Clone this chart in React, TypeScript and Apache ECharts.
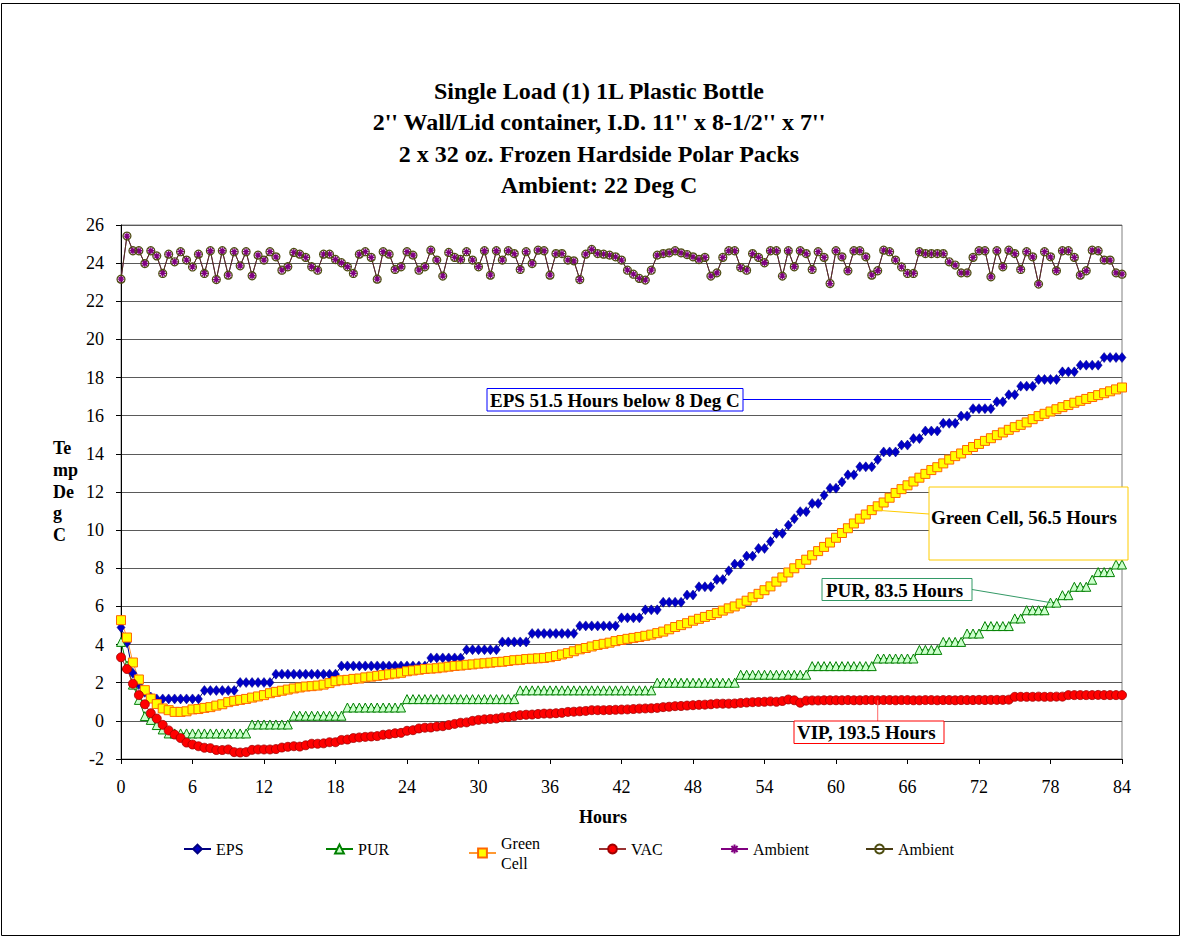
import React, { useEffect, useRef } from "react";
import * as echarts from "echarts";

const FONT = "'Liberation Serif', 'Times New Roman', serif";

const TITLE_LINES = [
  "Single Load (1) 1L Plastic Bottle",
  "2'' Wall/Lid container, I.D. 11'' x 8-1/2'' x 7''",
  "2 x 32 oz. Frozen Hardside Polar Packs",
  "Ambient: 22 Deg C",
];

// readings every half hour, 0 h .. 84 h
const SAMPLE_STEP_H = 0.5;

const EPS = [
  4.9, 4.1, 2.5, 1.9, 1.5, 1.25, 1.15, 1.15, 1.15, 1.15,
  1.15, 1.15, 1.15, 1.15, 1.59, 1.59, 1.59, 1.59, 1.59, 1.59,
  2.01, 2.01, 2.01, 2.01, 2.01, 2.01, 2.45, 2.45, 2.45, 2.45,
  2.45, 2.45, 2.45, 2.45, 2.45, 2.45, 2.45, 2.88, 2.88, 2.88,
  2.88, 2.88, 2.88, 2.88, 2.88, 2.88, 2.88, 2.88, 2.88, 2.88,
  2.88, 2.88, 3.3, 3.3, 3.3, 3.3, 3.3, 3.3, 3.73, 3.73,
  3.73, 3.73, 3.73, 3.73, 4.14, 4.14, 4.14, 4.14, 4.14, 4.58,
  4.58, 4.58, 4.58, 4.58, 4.58, 4.58, 4.58, 4.98, 4.98, 4.98,
  4.98, 4.98, 4.98, 4.98, 5.4, 5.4, 5.4, 5.4, 5.82, 5.82,
  5.82, 6.22, 6.22, 6.22, 6.22, 6.6, 6.6, 7.03, 7.03, 7.03,
  7.41, 7.41, 7.87, 8.22, 8.22, 8.64, 8.64, 9.04, 9.04, 9.4,
  9.83, 9.83, 10.26, 10.6, 10.97, 10.97, 11.4, 11.4, 11.83, 12.2,
  12.2, 12.53, 12.9, 12.9, 13.32, 13.32, 13.32, 13.7, 14.1, 14.1,
  14.1, 14.46, 14.46, 14.8, 14.8, 15.2, 15.2, 15.2, 15.6, 15.6,
  15.6, 15.98, 15.98, 16.37, 16.37, 16.37, 16.37, 16.73, 16.73, 17.1,
  17.1, 17.55, 17.55, 17.55, 17.9, 17.9, 17.9, 17.9, 18.3, 18.3,
  18.3, 18.65, 18.65, 18.65, 18.65, 19.05, 19.05, 19.05, 19.05,
];

const PUR = [
  4.14, 2.9, 1.9, 1.1, 0.25, 0.05, -0.22, -0.45, -0.66, -0.66,
  -0.66, -0.66, -0.66, -0.66, -0.66, -0.66, -0.66, -0.66, -0.66, -0.66,
  -0.66, -0.66, -0.19, -0.19, -0.19, -0.19, -0.19, -0.19, -0.19, 0.27,
  0.27, 0.27, 0.27, 0.27, 0.27, 0.27, 0.27, 0.27, 0.7, 0.7,
  0.7, 0.7, 0.7, 0.7, 0.7, 0.7, 0.7, 0.7, 1.14, 1.14,
  1.14, 1.14, 1.14, 1.14, 1.14, 1.14, 1.14, 1.14, 1.14, 1.14,
  1.14, 1.14, 1.14, 1.14, 1.14, 1.14, 1.14, 1.6, 1.6, 1.6,
  1.6, 1.6, 1.6, 1.6, 1.6, 1.6, 1.6, 1.6, 1.6, 1.6,
  1.6, 1.6, 1.6, 1.6, 1.6, 1.6, 1.6, 1.6, 1.6, 1.6,
  2.0, 2.0, 2.0, 2.0, 2.0, 2.0, 2.0, 2.0, 2.0, 2.0,
  2.0, 2.0, 2.0, 2.0, 2.42, 2.42, 2.42, 2.42, 2.42, 2.42,
  2.42, 2.42, 2.42, 2.42, 2.42, 2.42, 2.87, 2.87, 2.87, 2.87,
  2.87, 2.87, 2.87, 2.87, 2.87, 2.87, 2.87, 3.27, 3.27, 3.27,
  3.27, 3.27, 3.27, 3.27, 3.72, 3.72, 3.72, 3.72, 4.14, 4.14,
  4.14, 4.14, 4.58, 4.58, 4.58, 4.97, 4.97, 4.97, 4.97, 4.97,
  5.37, 5.37, 5.8, 5.8, 5.8, 5.8, 6.2, 6.2, 6.59, 6.59,
  7.03, 7.03, 7.03, 7.4, 7.8, 7.8, 7.8, 8.2, 8.2,
];

const GREEN_CELL = [
  5.28, 4.37, 3.06, 2.17, 1.61, 1.17, 0.88, 0.65, 0.56, 0.47,
  0.47, 0.5, 0.6, 0.62, 0.68, 0.72, 0.8, 0.87, 0.98, 1.05,
  1.1, 1.15, 1.22, 1.28, 1.35, 1.45, 1.52, 1.58, 1.64, 1.7,
  1.75, 1.8, 1.82, 1.85, 1.9, 1.98, 2.08, 2.13, 2.15, 2.2,
  2.22, 2.28, 2.32, 2.36, 2.4, 2.44, 2.48, 2.52, 2.6, 2.64,
  2.68, 2.72, 2.74, 2.76, 2.8, 2.84, 2.88, 2.9, 2.94, 2.96,
  3.0, 3.02, 3.05, 3.08, 3.1, 3.14, 3.18, 3.2, 3.24, 3.26,
  3.28, 3.3, 3.34, 3.4, 3.48, 3.55, 3.65, 3.75, 3.82, 3.9,
  3.98, 4.04, 4.1, 4.18, 4.24, 4.3, 4.35, 4.4, 4.46, 4.52,
  4.6, 4.68, 4.8, 4.92, 5.02, 5.12, 5.25, 5.35, 5.45, 5.55,
  5.65, 5.78, 5.9, 6.0, 6.15, 6.3, 6.48, 6.66, 6.85, 7.05,
  7.3, 7.52, 7.78, 8.0, 8.22, 8.45, 8.68, 8.9, 9.12, 9.35,
  9.6, 9.85, 10.1, 10.35, 10.6, 10.82, 11.05, 11.25, 11.45, 11.7,
  11.95, 12.15, 12.35, 12.55, 12.75, 12.95, 13.15, 13.3, 13.5, 13.7,
  13.88, 14.02, 14.2, 14.36, 14.52, 14.68, 14.82, 14.98, 15.12, 15.26,
  15.4, 15.52, 15.65, 15.82, 15.98, 16.1, 16.22, 16.34, 16.45, 16.56,
  16.68, 16.78, 16.88, 16.98, 17.08, 17.18, 17.28, 17.38, 17.48,
];

const VAC = [
  3.33, 2.72, 1.95, 1.35, 0.87, 0.4, 0.12, -0.21, -0.5, -0.72,
  -0.9, -1.14, -1.24, -1.33, -1.41, -1.43, -1.53, -1.53, -1.5, -1.64,
  -1.66, -1.64, -1.52, -1.5, -1.5, -1.5, -1.48, -1.4, -1.36, -1.33,
  -1.35, -1.28, -1.2, -1.2, -1.18, -1.12, -1.12, -1.0, -0.98, -0.9,
  -0.87, -0.84, -0.82, -0.8, -0.73, -0.7, -0.65, -0.63, -0.52, -0.49,
  -0.4, -0.36, -0.35, -0.3, -0.28, -0.22, -0.16, -0.1, -0.08, 0.0,
  0.05, 0.08, 0.1, 0.12, 0.18, 0.2, 0.25, 0.3, 0.32, 0.33,
  0.36, 0.38, 0.38, 0.4, 0.42, 0.47, 0.48, 0.5, 0.52, 0.56,
  0.56, 0.56, 0.57, 0.58, 0.59, 0.6, 0.62, 0.64, 0.65, 0.66,
  0.68, 0.72, 0.74, 0.77, 0.78, 0.8, 0.82, 0.84, 0.85, 0.87,
  0.9, 0.9, 0.9, 0.91, 0.94, 0.96, 0.98, 0.99, 1.0, 1.02,
  1.0, 1.04, 1.12, 1.08, 0.95, 1.06, 1.07, 1.07, 1.08, 1.08,
  1.08, 1.08, 1.09, 1.08, 1.08, 1.09, 1.09, 1.08, 1.09, 1.09,
  1.08, 1.09, 1.09, 1.08, 1.08, 1.09, 1.09, 1.08, 1.09, 1.09,
  1.08, 1.09, 1.09, 1.09, 1.1, 1.09, 1.1, 1.1, 1.1, 1.11,
  1.26, 1.26, 1.26, 1.26, 1.27, 1.26, 1.26, 1.27, 1.27, 1.35,
  1.35, 1.35, 1.35, 1.35, 1.36, 1.35, 1.35, 1.35, 1.35,
];

const AMBIENT = [
  23.16, 25.42, 24.65, 24.65, 23.98, 24.65, 24.38, 23.46, 24.47, 24.07,
  24.6, 24.16, 23.8, 24.47, 23.46, 24.65, 23.14, 24.65, 23.37, 24.6,
  23.86, 24.6, 23.34, 24.42, 24.16, 24.6, 24.33, 23.63, 23.81, 24.56,
  24.47, 24.3, 23.81, 23.63, 24.47, 24.47, 24.19, 24.02, 23.81, 23.46,
  24.47, 24.6, 24.3, 23.16, 24.6, 24.47, 23.67, 23.81, 24.6, 24.42,
  23.63, 23.81, 24.68, 24.16, 23.32, 24.56, 24.3, 24.19, 24.6, 24.16,
  23.81, 24.65, 23.37, 24.65, 24.16, 24.65, 24.5, 23.67, 24.6, 23.98,
  24.68, 24.65, 23.37, 24.5, 24.5, 24.16, 24.12, 23.14, 24.47, 24.72,
  24.5, 24.47, 24.42, 24.33, 24.16, 23.63, 23.42, 23.2, 23.11, 23.63,
  24.42, 24.5, 24.54, 24.65, 24.54, 24.45, 24.33, 24.19, 24.3, 23.32,
  23.49, 24.3, 24.65, 24.65, 23.77, 23.63, 24.5, 24.3, 24.02, 24.65,
  24.65, 23.32, 24.65, 23.81, 24.65, 24.5, 23.67, 24.6, 24.3, 22.93,
  24.65, 24.33, 23.6, 24.65, 24.65, 24.33, 23.37, 23.6, 24.68, 24.6,
  24.16, 23.8, 23.46, 23.46, 24.6, 24.5, 24.5, 24.5, 24.5, 24.07,
  23.9, 23.49, 23.49, 24.3, 24.65, 24.65, 23.28, 24.65, 23.81, 24.68,
  24.5, 23.67, 24.6, 24.33, 22.9, 24.6, 24.33, 23.6, 24.65, 24.65,
  24.3, 23.37, 23.6, 24.68, 24.65, 24.16, 24.16, 23.49, 23.42,
];

const HOURS = EPS.map((_, i) => i * SAMPLE_STEP_H);

const X_TICKS = { min: 0, max: 84, interval: 6 };
const Y_TICKS = { min: -2, max: 26, interval: 2 };

const LEGEND_NAMES = ["EPS", "PUR", "Green Cell", "VAC", "Ambient", "Ambient (2)"];
const LEGEND_LABELS = ["EPS", "PUR", "Green\nCell", "VAC", "Ambient", "Ambient"];

const ANNOTATIONS = {
  eps: "EPS 51.5 Hours below 8 Deg C",
  green: "Green Cell, 56.5 Hours",
  pur: "PUR, 83.5 Hours",
  vip: "VIP, 193.5 Hours",
};

const ASTERISK = "path://M5,0L5,10M0,5L10,5M1.5,1.5L8.5,8.5M8.5,1.5L1.5,8.5";

function pairs(values: number[]) {
  return values.map((v, i) => [HOURS[i], v]);
}

export default function App() {
  const ref = useRef<HTMLDivElement>(null);

  useEffect(() => {
    document.body.style.margin = "0";
    const chart = echarts.init(ref.current!, null, { renderer: "svg" });

    const lineSeries = (
      name: string,
      values: number[],
      lineColor: string,
      symbol: string,
      symbolSize: number | number[],
      fill: string,
      border: string,
      borderWidth: number
    ) => ({
      name,
      type: "line",
      data: pairs(values),
      symbol,
      symbolSize,
      showAllSymbol: true,
      clip: false,
      lineStyle: { color: lineColor, width: 1 },
      itemStyle: { color: fill, borderColor: border, borderWidth },
      emphasis: { disabled: true },
    });

    const legendLefts = [183, 325, 468, 598, 720, 865];

    const option: any = {
      animation: false,
      backgroundColor: "#fff",
      textStyle: { fontFamily: FONT },
      grid: {
        left: 121,
        right: 60,
        top: 225,
        bottom: 180,
        show: true,
        borderColor: "#808080",
        borderWidth: 1,
        backgroundColor: "transparent",
      },
      xAxis: {
        type: "value",
        ...X_TICKS,
        axisLine: { show: true, onZero: false, lineStyle: { color: "#000", width: 1 } },
        axisTick: { show: true, length: 5, lineStyle: { color: "#000" } },
        axisLabel: { color: "#000", fontSize: 18, fontFamily: FONT, margin: 19 },
        splitLine: { show: false },
      },
      yAxis: {
        type: "value",
        ...Y_TICKS,
        axisLine: { show: true, lineStyle: { color: "#000", width: 1 } },
        axisTick: { show: true, length: 5, lineStyle: { color: "#000" } },
        axisLabel: { color: "#000", fontSize: 18, fontFamily: FONT, margin: 17 },
        splitLine: { show: true, lineStyle: { color: "#5a5a5a", width: 1 } },
      },
      legend: LEGEND_NAMES.map((n, i) => ({
        data: [n],
        left: legendLefts[i],
        top: i === 2 ? 833 : 839,
        padding: 0,
        itemWidth: 27,
        itemHeight: 11,
        selectedMode: false,
        formatter: () => LEGEND_LABELS[i],
        textStyle: { color: "#000", fontSize: 16, fontFamily: FONT, lineHeight: 20 },
      })),
      series: [
        lineSeries("EPS", EPS, "#000080", "diamond", [8, 10], "#0000c8", "#000080", 0.5),
        lineSeries("PUR", PUR, "#008000", "triangle", 9, "#ccffcc", "#008000", 1),
        lineSeries("Green Cell", GREEN_CELL, "#ff9933", "rect", 9, "#ffff00", "#ff6600", 1),
        lineSeries("VAC", VAC, "#993333", "circle", 9, "#ff0000", "#a00000", 0.8),
        lineSeries("Ambient", AMBIENT, "#800080", ASTERISK, 7, "rgba(0,0,0,0)", "#800080", 1.3),
        lineSeries("Ambient (2)", AMBIENT, "#4a3c14", "circle", 8, "rgba(0,0,0,0)", "#4d4d10", 1.2),
      ],
    };

    chart.setOption(option);

    const px = (values: number[], i: number) =>
      chart.convertToPixel({ gridIndex: 0 }, [HOURS[i], values[i]]) as number[];

    const epsPt = px(EPS, 146);
    const greenPt = px(GREEN_CELL, 127);
    const purPt = px(PUR, 156);
    const vacPt = px(VAC, 127);

    const boxText = (text: string, x: number, y: number) => ({
      type: "text",
      x,
      y,
      style: {
        text,
        fill: "#000",
        fontFamily: FONT,
        fontSize: 19,
        fontWeight: "bold",
        align: "left",
        verticalAlign: "middle",
      },
      z: 20,
    });
    const box = (x: number, y: number, w: number, h: number, stroke: string) => ({
      type: "rect",
      shape: { x, y, width: w, height: h },
      style: { fill: "#fff", stroke, lineWidth: 1 },
      z: 19,
    });
    const leader = (x1: number, y1: number, x2: number, y2: number, stroke: string) => ({
      type: "line",
      shape: { x1, y1, x2, y2 },
      style: { stroke, lineWidth: 1 },
      z: 18,
    });

    chart.setOption({
      graphic: [
        {
          type: "rect",
          shape: { x: 1.5, y: 3.5, width: 1178, height: 932 },
          style: { fill: "none", stroke: "#000", lineWidth: 1 },
          z: 0,
        },
        {
          type: "text",
          x: 599,
          y: 75,
          style: {
            text: TITLE_LINES.join("\n"),
            fill: "#000",
            fontFamily: FONT,
            fontSize: 24,
            fontWeight: "bold",
            lineHeight: 31.5,
            align: "center",
            verticalAlign: "top",
          },
        },
        {
          type: "text",
          x: 53,
          y: 437.5,
          style: {
            text: "Te\nmp\nDe\ng\nC",
            fill: "#000",
            fontFamily: FONT,
            fontSize: 18,
            fontWeight: "bold",
            lineHeight: 21.7,
            align: "left",
            verticalAlign: "top",
          },
        },
        {
          type: "text",
          x: 603,
          y: 817,
          style: {
            text: "Hours",
            fill: "#000",
            fontFamily: FONT,
            fontSize: 18,
            fontWeight: "bold",
            align: "center",
            verticalAlign: "middle",
          },
        },
        leader(743, 399.5, epsPt[0], 399.5, "#0000ff"),
        box(487, 388.5, 256, 22.5, "#0000ff"),
        boxText(ANNOTATIONS.eps, 490, 400),
        leader(929, 514, greenPt[0], greenPt[1] + 4, "#ffcc00"),
        box(929, 487, 199, 73, "#ffcc00"),
        boxText(ANNOTATIONS.green, 931, 517),
        leader(972, 589.5, purPt[0], purPt[1], "#339966"),
        box(822, 578.5, 150, 22, "#339966"),
        boxText(ANNOTATIONS.pur, 826, 590),
        leader(vacPt[0], 721, vacPt[0], vacPt[1], "#ff6666"),
        box(794, 721, 150, 22.5, "#ff0000"),
        boxText(ANNOTATIONS.vip, 797, 732.5),
      ],
    });

    return () => chart.dispose();
  }, []);

  return <div ref={ref} style={{ width: 1182, height: 939 }} />;
}
